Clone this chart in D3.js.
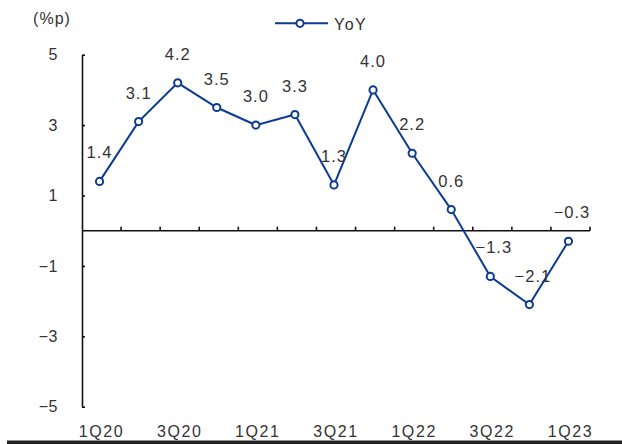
<!DOCTYPE html>
<html>
<head>
<meta charset="utf-8">
<script src="https://cdn.jsdelivr.net/npm/d3@7"></script>
<style>
  html, body { margin: 0; padding: 0; background: #fff; }
  svg { display: block; }
  text { font-family: "Liberation Sans", Arial, sans-serif; fill: #333; }
</style>
</head>
<body>
<svg id="chart" width="622" height="444"></svg>
<script>
const categories = ["1Q20","2Q20","3Q20","4Q20","1Q21","2Q21","3Q21","4Q21","1Q22","2Q22","3Q22","4Q22","1Q23"];
const yoyValues = [1.4, 3.1, 4.2, 3.5, 3.0, 3.3, 1.3, 4.0, 2.2, 0.6, -1.3, -2.1, -0.3];
const yTicks = [5, 3, 1, -1, -3, -5];
const xTickLabels = ["1Q20","3Q20","1Q21","3Q21","1Q22","3Q22","1Q23"];
const seriesName = "YoY";
const unitLabel = "(%p)";

const color = "#0b3b94";
const fmt = v => (v < 0 ? "\u2212" : "") + Math.abs(v).toFixed(1);
const fmtTick = v => (v < 0 ? "\u2212" : "") + Math.abs(v);

const svg = d3.select("#chart");
const x = d3.scaleBand().domain(categories).range([82, 590]).padding(0);
const y = d3.scaleLinear().domain([-5, 5]).range([406.7, 54.7]);
const px = c => x(c) + x.bandwidth() / 2 - 2;

// Y axis
const yAxis = d3.axisLeft(y).tickValues(yTicks).tickSizeInner(-3).tickSizeOuter(0)
  .tickPadding(24).tickFormat(fmtTick);
const gy = svg.append("g").attr("transform", "translate(82,0)").call(yAxis);
gy.select(".domain").attr("stroke", "#111").attr("stroke-width", 1.6);
gy.selectAll(".tick line").attr("stroke", "#111").attr("stroke-width", 1.6);
gy.selectAll(".tick text").attr("font-size", 16).attr("fill", "#333")
  .attr("font-family", "Liberation Sans, Arial, sans-serif").style("letter-spacing", "0.5px");

// zero line with upward ticks
const y0 = y(0);
svg.append("line").attr("x1", 82).attr("x2", 590).attr("y1", y0).attr("y2", y0)
  .attr("stroke", "#111").attr("stroke-width", 1.6);
svg.append("g").selectAll("line").data(categories).join("line")
  .attr("x1", d => x(d) + x.bandwidth()).attr("x2", d => x(d) + x.bandwidth())
  .attr("y1", y0).attr("y2", y0 - 4)
  .attr("stroke", "#111").attr("stroke-width", 1.6);

// x tick labels
svg.append("g").selectAll("text").data(xTickLabels).join("text")
  .attr("x", d => x(d) + x.bandwidth() / 2)
  .attr("y", 436.5)
  .attr("text-anchor", "middle")
  .attr("font-size", 16)
  .style("letter-spacing", "1.6px")
  .text(d => d);

// bottom rule
svg.append("rect").attr("x", 7).attr("y", 440.5).attr("width", 615).attr("height", 3.5).attr("fill", "#222");

// line
const data = categories.map((c, i) => ({ c, v: yoyValues[i] }));
svg.append("path").datum(data)
  .attr("fill", "none").attr("stroke", color).attr("stroke-width", 2)
  .attr("d", d3.line().x(d => px(d.c)).y(d => y(d.v)));
svg.append("g").selectAll("circle").data(data).join("circle")
  .attr("cx", d => px(d.c)).attr("cy", d => y(d.v)).attr("r", 3.6)
  .attr("fill", "#fff").attr("stroke", color).attr("stroke-width", 2);

// data labels
svg.append("g").selectAll("text").data(data).join("text")
  .attr("x", d => px(d.c) + (d.v < 0 ? 3.5 : 0))
  .attr("y", d => y(d.v) - 23)
  .attr("text-anchor", "middle")
  .attr("font-size", 16.5)
  .style("letter-spacing", "1px")
  .text(d => fmt(d.v));

// unit label
svg.append("text").attr("x", 52).attr("y", 24).attr("text-anchor", "middle")
  .attr("font-size", 16).style("letter-spacing", "1px").text(unitLabel);

// legend
svg.append("line").attr("x1", 275).attr("x2", 328).attr("y1", 23.3).attr("y2", 23.3)
  .attr("stroke", color).attr("stroke-width", 2);
svg.append("circle").attr("cx", 300).attr("cy", 23.3).attr("r", 3.6)
  .attr("fill", "#fff").attr("stroke", color).attr("stroke-width", 2);
svg.append("text").attr("x", 334).attr("y", 29.5).attr("font-size", 16)
  .style("letter-spacing", "1.5px").text(seriesName);
</script>
</body>
</html>
